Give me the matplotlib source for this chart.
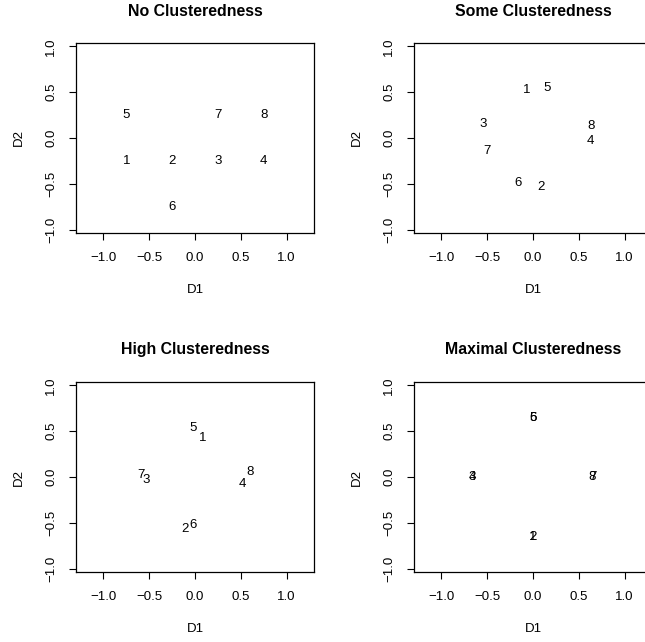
import numpy as np
import matplotlib
matplotlib.use('Agg')
import matplotlib.pyplot as plt

plt.rcParams['font.family'] = ['Liberation Sans', 'DejaVu Sans']

# point labels shared by every panel
labels = ['1', '2', '3', '4', '5', '6', '7', '8']

titles = ['No Clusteredness', 'Some Clusteredness',
          'High Clusteredness', 'Maximal Clusteredness']

# D1 / D2 coordinates
no_d1 = [-0.75, -0.25, 0.25, 0.75, -0.75, -0.25, 0.25, 0.75]
no_d2 = [-0.25, -0.25, -0.25, -0.25, 0.25, -0.75, 0.25, 0.25]

some_d1 = [-0.07, 0.09, -0.54, 0.63, 0.15, -0.16, -0.50, 0.63]
some_d2 = [0.52, -0.53, 0.15, -0.03, 0.55, -0.49, -0.14, 0.13]

high_d1 = [0.08, -0.11, -0.53, 0.52, -0.02, -0.02, -0.59, 0.60]
high_d2 = [0.43, -0.57, -0.03, -0.08, 0.53, -0.52, 0.02, 0.06]

max_d1 = [0.0, 0.0, -0.66, -0.66, 0.0, 0.0, 0.65, 0.65]
max_d2 = [-0.66, -0.66, 0.0, 0.0, 0.64, 0.64, 0.0, 0.0]

panels = [(no_d1, no_d2), (some_d1, some_d2), (high_d1, high_d2), (max_d1, max_d2)]

ticks = [-1.0, -0.5, 0.0, 0.5, 1.0]
tick_labels = ['\u22121.0', '\u22120.5', '0.0', '0.5', '1.0']

W, H = 645, 642
fig = plt.figure(figsize=(W / 100, H / 100), dpi=100)

# axes boxes in pixels: left, top, width, height
boxes = [(76, 43), (414, 43), (76, 382), (414, 382)]
bw, bh = 238, 190

for i, ((d1, d2), (left, top)) in enumerate(zip(panels, boxes)):
    ax = fig.add_axes([left / W, (H - top - bh) / H, bw / W, bh / H])
    ax.set_xlim(-1.3, 1.3)
    ax.set_ylim(-1.038, 1.038)
    for x, y, lab in zip(d1, d2, labels):
        ax.text(x, y, lab, ha='center', va='center', fontsize=9.5, color='black')
    ax.set_xticks(ticks)
    ax.set_xticklabels(tick_labels)
    ax.set_yticks(ticks)
    ax.set_yticklabels(tick_labels, rotation=90, va='center')
    ax.tick_params(direction='out', length=5, width=0.8, labelsize=9.5, pad=8.5)
    for sp in ax.spines.values():
        sp.set_linewidth(0.9)
    ax.set_xlabel('D1', fontsize=9.5)
    ax.set_ylabel('D2', fontsize=9.5)
    ax.xaxis.set_label_coords(0.5, -57 / bh)
    ax.yaxis.set_label_coords(-57 / bw, 0.5)
    ax.xaxis.label.set_va('center')
    ax.yaxis.label.set_va('center')
    fig.text((left + bw / 2) / W, 1 - (top - 32) / H, titles[i],
             ha='center', va='center', fontsize=11.4, fontweight='bold')

fig.savefig('out.png', dpi=100)
